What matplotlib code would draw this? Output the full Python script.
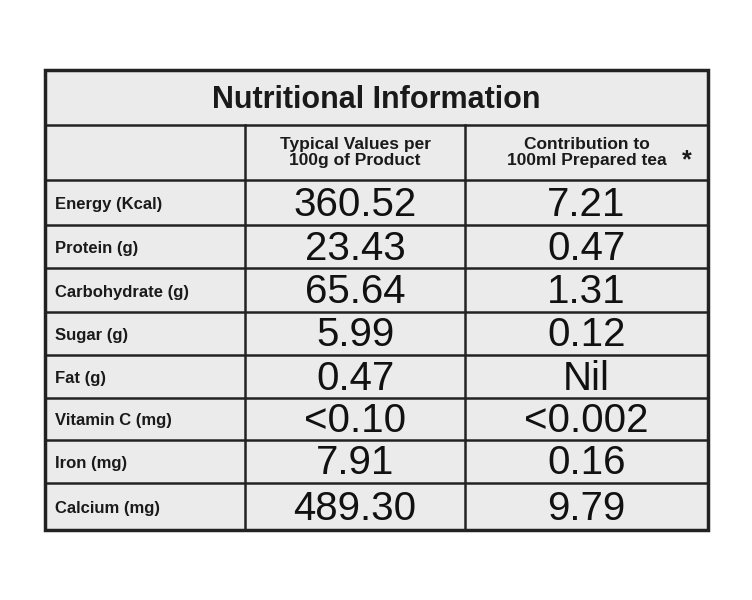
import matplotlib.pyplot as plt

title = "Nutritional Information"
col_heads = ["Typical Values per\n100g of Product", "Contribution to\n100ml Prepared tea"]
nutrients = ["Energy (Kcal)", "Protein (g)", "Carbohydrate (g)", "Sugar (g)", "Fat (g)",
             "Vitamin C (mg)", "Iron (mg)", "Calcium (mg)"]
per_100g = ["360.52", "23.43", "65.64", "5.99", "0.47", "<0.10", "7.91", "489.30"]
per_100ml = ["7.21", "0.47", "1.31", "0.12", "Nil", "<0.002", "0.16", "9.79"]

plt.rcParams['font.family'] = ['Liberation Sans', 'DejaVu Sans']

fig = plt.figure(figsize=(7.52, 6), dpi=100)
ax = fig.add_axes([0, 0, 1, 1])
ax.set_xlim(0, 752)
ax.set_ylim(600, 0)
ax.axis("off")

left, right, top, bottom = 45, 708, 70, 530
col_x = [left, 245, 465, right]
row_y = [top, 125, 180, 225, 268, 312, 355, 398, 440, 483, bottom]

ax.add_patch(plt.Rectangle((left, top), right - left, bottom - top,
                           facecolor="#ebebeb", edgecolor="#222222", lw=2.5))
for y in row_y[1:-1]:
    ax.plot([left, right], [y, y], color="#222222", lw=1.8)
for x in col_x[1:-1]:
    ax.plot([x, x], [row_y[1], bottom], color="#222222", lw=1.8)

ax.text((left + right) / 2, (row_y[0] + row_y[1]) / 2 + 3, title, ha="center", va="center",
        fontsize=22, fontweight="bold", color="#1a1a1a")
for i, h in enumerate(col_heads):
    ax.text((col_x[i + 1] + col_x[i + 2]) / 2, (row_y[1] + row_y[2]) / 2, h, ha="center",
            va="center", fontsize=12.5, fontweight="bold", color="#1a1a1a", linespacing=1.1)
ax.text(687, 160, "*", fontsize=18, fontweight="bold", color="#1a1a1a", ha="center", va="center")

for i, name in enumerate(nutrients):
    yc = (row_y[i + 2] + row_y[i + 3]) / 2
    ax.text(col_x[0] + 10, yc + 2, name, ha="left", va="center", fontsize=12,
            fontweight="bold", color="#1a1a1a")
    ax.text((col_x[1] + col_x[2]) / 2, yc + 2, per_100g[i], ha="center", va="center",
            fontsize=29, color="#111111")
    ax.text((col_x[2] + col_x[3]) / 2, yc + 2, per_100ml[i], ha="center", va="center",
            fontsize=29, color="#111111")

fig.savefig("out.png", dpi=100, facecolor="white")
